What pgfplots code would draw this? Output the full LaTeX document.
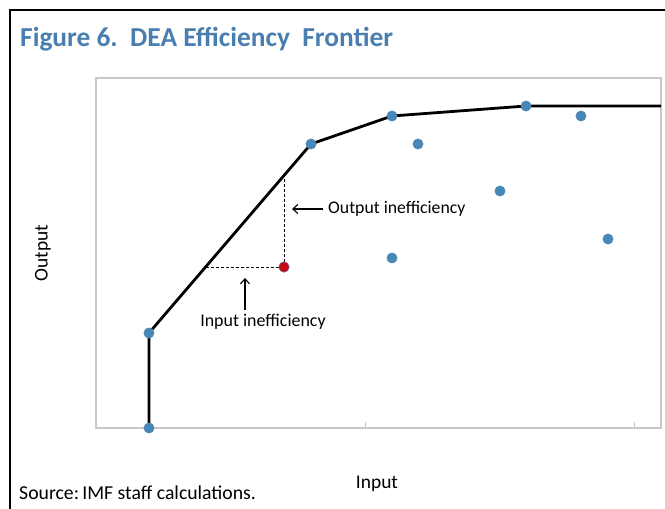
\documentclass[border=0pt]{standalone}
\usepackage{pgfplots}
\pgfplotsset{compat=1.18}
\usepackage{fontspec}
\setmainfont{Carlito}
\usetikzlibrary{arrows.meta}
\definecolor{titleblue}{RGB}{74,126,176}
\definecolor{dotblue}{RGB}{72,136,182}
\definecolor{dotred}{RGB}{200,10,20}
\definecolor{axgray}{RGB}{200,200,200}
\begin{document}
\begin{tikzpicture}
\begin{axis}[
  x=1bp, y=1bp,
  xmin=96, xmax=661, ymin=81, ymax=431,
  clip=false,
  axis line style={draw=axgray, line width=1.1bp},
  xtick={365,634}, xticklabels={,},
  ytick=\empty,
  tick align=inside,
  xtick pos=bottom,
  major tick length=6bp,
  tick style={draw=axgray, line width=1bp},
]
% frontier
\addplot[black, line width=2.8bp, no markers] coordinates {
  (149,81) (149,176) (311,365) (392,393) (526,403) (661,403)
};
% dashed inefficiency lines
\addplot[black, line width=0.9bp, dash pattern=on 3bp off 2bp, no markers] coordinates {
  (284,242) (284,333.5)
};
\addplot[black, line width=0.9bp, dash pattern=on 3bp off 2bp, no markers] coordinates {
  (284,242) (205.6,242)
};
% observations
\addplot[only marks, mark=*, mark size=5.2bp, mark options={fill=dotblue, draw=dotblue}] coordinates {
  (149,81) (149,176) (311,365) (392,393) (526,403)
  (581,393) (418,365) (500,318) (392,251) (608,270)
};
\addplot[only marks, mark=*, mark size=5.2bp, mark options={fill=dotred, draw=dotblue!70!dotred, line width=0.6bp}] coordinates {
  (284,242)
};
% annotations
\draw[-{Straight Barb[length=5bp,width=9bp]}, line width=1.1bp] (axis cs:323,300) -- (axis cs:292,300);
\node[anchor=west, inner sep=0pt, font=\fontsize{17.8}{20}\selectfont] at (axis cs:328,300) {Output inefficiency};
\draw[-{Straight Barb[length=5bp,width=9bp]}, line width=1.1bp] (axis cs:245,199) -- (axis cs:245,231);
\node[inner sep=0pt, font=\fontsize{18}{20}\selectfont] at (axis cs:263,187) {Input inefficiency};
% labels
\node[inner sep=0pt, font=\fontsize{19.5}{22}\selectfont] at (axis cs:377,25) {Input};
\node[inner sep=0pt, rotate=90, font=\fontsize{19.5}{22}\selectfont] at (axis cs:43,256) {Output};
\node[anchor=west, inner sep=0pt, font=\fontsize{19.8}{22}\selectfont] at (axis cs:19,16) {Source:\,IMF staff calculations.};
\node[anchor=base west, inner sep=0pt, text=titleblue, font=\fontsize{27.5}{30}\selectfont\bfseries] at (axis cs:20,462) {Figure 6.\ \ DEA Efficiency\ \ Frontier};
% frame
\draw[black, line width=2.2bp] (axis cs:10,0) -- (axis cs:10,499) -- (axis cs:665,499);
\coordinate (BL) at (axis cs:0,0);
\coordinate (TR) at (axis cs:665,509);
\end{axis}
\pgfresetboundingbox
\path[use as bounding box] (BL) rectangle (TR);
\end{tikzpicture}
\end{document}
